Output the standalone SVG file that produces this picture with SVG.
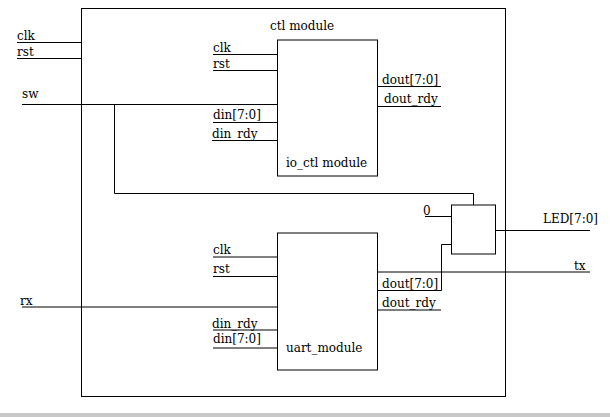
<svg xmlns="http://www.w3.org/2000/svg" width="610" height="417" viewBox="0 0 610 417">
<style>
.box{fill:none;stroke:#000;stroke-width:1}
.w{fill:none;stroke:#000;stroke-width:1}
text{font-family:"DejaVu Serif",serif;font-size:12px;fill:#000}
</style>
<rect width="610" height="417" fill="#fff"/>
<rect x="0" y="413" width="610" height="4" fill="#c8c8c8"/>
<g id="ctl_module">
<rect class="box" x="81.5" y="8.5" width="424" height="388"/>
<text x="270" y="30">ctl module</text>
</g>
<g id="io_ctl_module">
<rect class="box" x="277.5" y="40" width="100" height="136"/>
<text x="286" y="167">io_ctl module</text>
<text x="213" y="52">clk</text>
<text x="213" y="68">rst</text>
<text x="213" y="119">din[7:0]</text>
<text x="212" y="138">din_rdy</text>
<text x="382" y="84">dout[7:0]</text>
<text x="384" y="103">dout_rdy</text>
</g>
<g id="uart_module">
<rect class="box" x="277.5" y="233" width="100" height="137"/>
<text x="286" y="352">uart_module</text>
<text x="213" y="254">clk</text>
<text x="213" y="273">rst</text>
<text x="212" y="328">din_rdy</text>
<text x="213" y="343">din[7:0]</text>
<text x="382" y="288">dout[7:0]</text>
<text x="382" y="307">dout_rdy</text>
</g>
<g id="mux">
<rect class="box" x="451.5" y="205" width="44" height="49"/>
<text x="423" y="215">0</text>
</g>
<g id="ports">
<text x="17" y="40">clk</text>
<text x="17" y="56">rst</text>
<text x="22" y="98">sw</text>
<text x="20" y="305">rx</text>
<text x="543" y="223">LED[7:0]</text>
<text x="574" y="270">tx</text>
</g>
<g id="connectors">
<path class="w" d="M17 42.5H81.5"/>
<path class="w" d="M17 58.5H81.5"/>
<path class="w" d="M22 104.5H277.5"/>
<path class="w" d="M114.5 104.5V193.5H473.5V205"/>
<path class="w" d="M213 54.5H277.5"/>
<path class="w" d="M213 70.5H277.5"/>
<path class="w" d="M213 122.5H277.5"/>
<path class="w" d="M212 140.5H277.5"/>
<path class="w" d="M377.5 86.5H441"/>
<path class="w" d="M377.5 106.5H441"/>
<path class="w" d="M425 216.5H451.5"/>
<path class="w" d="M377.5 290.5H441.5V244.5H451.5"/>
<path class="w" d="M495.5 230.5H590"/>
<path class="w" d="M377.5 272H590"/>
<path class="w" d="M377.5 310H441"/>
<path class="w" d="M213 257H277.5"/>
<path class="w" d="M213 276.5H277.5"/>
<path class="w" d="M22 307H277.5"/>
<path class="w" d="M213 330H277.5"/>
<path class="w" d="M213 348H277.5"/>
</g>
</svg>
